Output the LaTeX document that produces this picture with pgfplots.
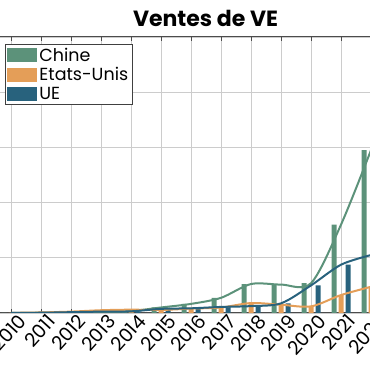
\documentclass[border=0pt]{standalone}
\usepackage{pgfplots}
\pgfplotsset{compat=1.18}
\usepackage{fontspec}
\setmainfont{Poppins}
\definecolor{cn}{RGB}{92,146,122}
\definecolor{us}{RGB}{228,158,88}
\definecolor{ue}{RGB}{40,98,125}
\begin{document}
\begin{tikzpicture}[x=1pt,y=1pt]
\path[use as bounding box] (0,0) rectangle (370,370);
\clip (0,0) rectangle (370,370);
\node[font=\bfseries\fontsize{22}{24}\selectfont] at (205.5,352) {Ventes de VE};
\begin{axis}[
  at={(-4pt,57pt)}, anchor=south west,
  scale only axis, width=390pt, height=276pt,
  xmin=2009.5, xmax=2022.5, ymin=0, ymax=10,
  xtick={2010,2011,2012,2013,2014,2015,2016,2017,2018,2019,2020,2021,2022},
  xticklabels={2010,2011,2012,2013,2014,2015,2016,2017,2018,2019,2020,2021,2022},
  ytick={0,2,4,6,8,10}, yticklabels={},
  x tick label style={rotate=48, anchor=north east, font=\fontsize{19}{21}\selectfont, inner sep=0pt, yshift=-4pt, xshift=4pt},
  grid=major, major grid style={draw=black!20, line width=0.7pt},
  axis line style={draw=black!70, line width=1pt},
  major tick length=4pt, tick style={draw=black!70, line width=0.8pt},
  legend style={at={(rel axis cs:0.023,0.975)}, anchor=north west, draw=black!75, line width=0.9pt,
    font=\fontsize{17.5}{19}\selectfont, inner xsep=2pt, inner ysep=1.5pt, row sep=1pt, legend cell align=left},
]
\addplot[ybar, bar width=5pt, bar shift=-7pt, fill=cn, draw=none,
  legend image code/.code={\fill[cn] (0pt,-7pt) rectangle (30pt,7pt);}]
  coordinates {(2010,0.005) (2011,0.01) (2012,0.015) (2013,0.02) (2014,0.07) (2015,0.2) (2016,0.33) (2017,0.55) (2018,1.05) (2019,1.03) (2020,1.08) (2021,3.2) (2022,5.9)};
\addlegendentry{Chine}
\addplot[ybar, bar width=5pt, bar shift=0pt, fill=us, draw=none,
  legend image code/.code={\fill[us] (0pt,-7pt) rectangle (30pt,7pt);}]
  coordinates {(2010,0.005) (2011,0.02) (2012,0.05) (2013,0.1) (2014,0.12) (2015,0.11) (2016,0.16) (2017,0.2) (2018,0.36) (2019,0.3) (2020,0.24) (2021,0.65) (2022,0.95)};
\addlegendentry{Etats-Unis}
\addplot[ybar, bar width=5pt, bar shift=7pt, fill=ue, draw=none,
  legend image code/.code={\fill[ue] (0pt,-7pt) rectangle (30pt,7pt);}]
  coordinates {(2010,0.002) (2011,0.01) (2012,0.03) (2013,0.05) (2014,0.06) (2015,0.15) (2016,0.17) (2017,0.22) (2018,0.25) (2019,0.35) (2020,1.0) (2021,1.75) (2022,2.1)};
\addlegendentry{UE}
\addplot[forget plot, smooth, tension=0.5, no markers, draw=cn, line width=2pt]
  coordinates {(2010,0.005) (2011,0.01) (2012,0.015) (2013,0.02) (2014,0.07) (2015,0.2) (2016,0.33) (2017,0.55) (2018,1.05) (2019,1.03) (2020,1.08) (2021,3.2) (2022,5.9)};
\addplot[forget plot, smooth, tension=0.5, no markers, draw=us, line width=2pt]
  coordinates {(2010,0.005) (2011,0.02) (2012,0.05) (2013,0.1) (2014,0.12) (2015,0.11) (2016,0.16) (2017,0.2) (2018,0.36) (2019,0.3) (2020,0.24) (2021,0.65) (2022,0.95)};
\addplot[forget plot, smooth, tension=0.5, no markers, draw=ue, line width=2pt]
  coordinates {(2010,0.002) (2011,0.01) (2012,0.03) (2013,0.05) (2014,0.06) (2015,0.15) (2016,0.17) (2017,0.22) (2018,0.25) (2019,0.35) (2020,1.0) (2021,1.75) (2022,2.1)};
\end{axis}
\end{tikzpicture}
\end{document}
